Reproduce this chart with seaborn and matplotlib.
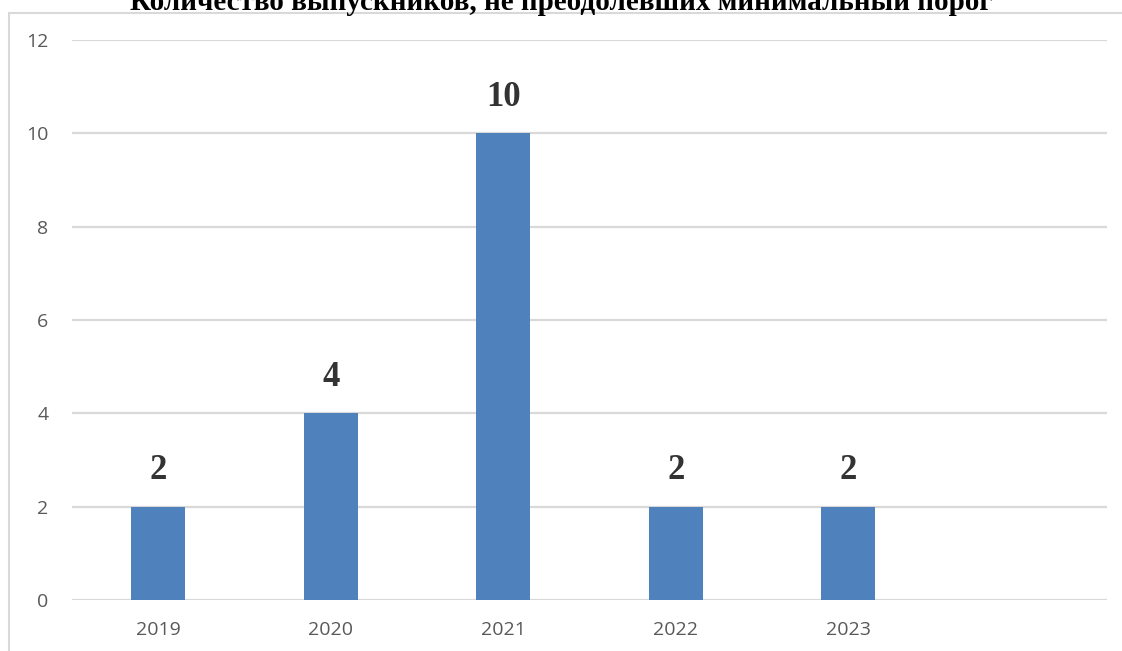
import matplotlib
matplotlib.use("Agg")
import matplotlib.pyplot as plt
import pandas as pd
import seaborn as sns
from matplotlib.lines import Line2D

# chart data
years = ["2019", "2020", "2021", "2022", "2023"]
counts = [2, 4, 10, 2, 2]
title = "Количество выпускников, не преодолевших минимальный порог"
y_ticks = [0, 2, 4, 6, 8, 10, 12]

BAR_COLOR = "#4f81bd"
GRID_COLOR = "#d9d9d9"
TICK_COLOR = "#595959"

df = pd.DataFrame({"year": years, "count": counts})

sns.set_theme(style="white")
plt.rcParams["font.family"] = ["Open Sans", "DejaVu Sans"]

fig = plt.figure(figsize=(11.22, 6.51), dpi=100)
ax = fig.add_axes([72 / 1122, 1 - 600 / 651, (1107 - 72) / 1122, 560 / 651])

sns.barplot(data=df, x="year", y="count", order=years, color=BAR_COLOR,
            saturation=1, width=0.315, linewidth=0, ax=ax)

ax.set_xlim(-0.5, 5.5)
ax.set_ylim(0, 12)
ax.set_yticks(y_ticks)
ax.set_xlabel("")
ax.set_ylabel("")

for s in ax.spines.values():
    s.set_visible(False)
ax.yaxis.grid(True, color=GRID_COLOR, lw=1.6)
ax.set_axisbelow(True)
ax.tick_params(axis="both", length=0, labelsize=14, labelcolor=TICK_COLOR)
ax.tick_params(axis="y", pad=17)
ax.tick_params(axis="x", pad=15)

# value labels above the bars
ax.bar_label(ax.containers[0], padding=14, fontsize=25, fontweight="bold",
             family="Liberation Serif", color="#333333")

# title (clipped at the top like the source)
fig.text(0.5, 1 - 10 / 651, title, ha="center", va="baseline", fontsize=21,
         fontweight="bold", family="Liberation Serif", color="black")

# chart area frame, only left and top visible
fig.add_artist(Line2D([8.5 / 1122, 8.5 / 1122], [0, 1 - 12.5 / 651],
                      transform=fig.transFigure, color=GRID_COLOR, lw=1.5))
fig.add_artist(Line2D([8.5 / 1122, 1], [1 - 12.5 / 651, 1 - 12.5 / 651],
                      transform=fig.transFigure, color=GRID_COLOR, lw=1.5))

fig.savefig("out.png", dpi=100)
